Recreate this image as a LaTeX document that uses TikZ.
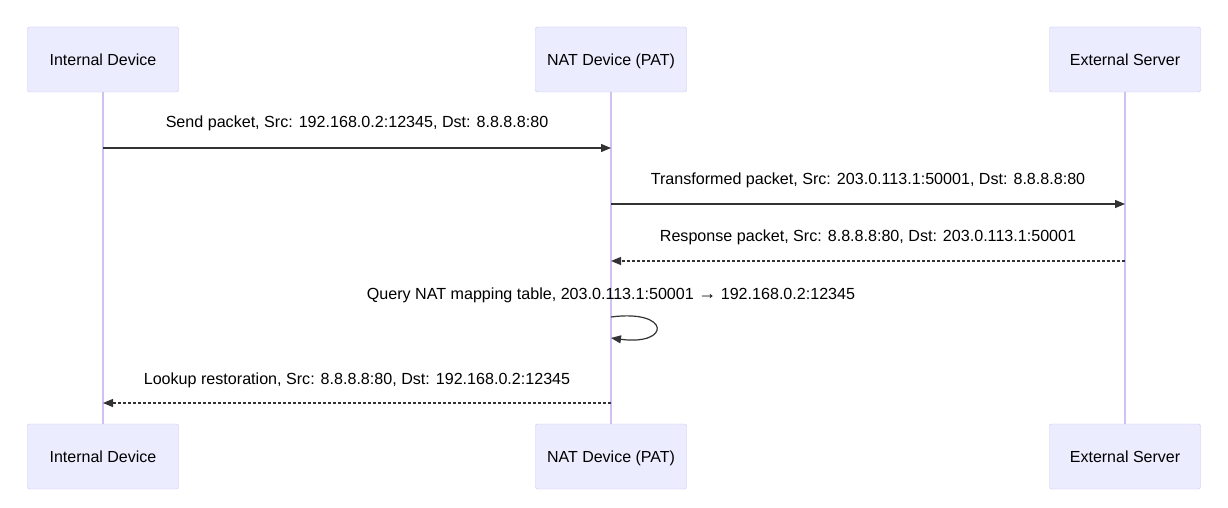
\documentclass[tikz,border=0pt]{standalone}
\usepackage{fontspec}
\setmainfont{Liberation Sans}
\usetikzlibrary{arrows.meta}
\definecolor{actfill}{HTML}{ECECFF}
\definecolor{actline}{HTML}{CFC2F2}
\definecolor{ink}{HTML}{333333}
\tikzset{
  actor/.style={draw=actline, fill=actfill, rounded corners=2pt, minimum width=151pt, minimum height=65pt, inner sep=0pt, font=\fontsize{16}{18}\selectfont, text=black, text height=12pt, text depth=0pt},
  life/.style={draw=actline, line width=1.6pt},
  msg/.style={draw=ink, line width=1.2pt, -{Triangle[length=10pt,width=8pt]}},
  reply/.style={msg, dash pattern=on 3pt off 2pt},
  lbl/.style={font=\fontsize{16.1}{18}\selectfont, text=black, inner sep=0pt, text height=12pt, text depth=0pt}
}
\begin{document}
\begin{tikzpicture}[x=1pt,y=-1pt]
\useasboundingbox (0,0) rectangle (1228,508);
\fill[white] (0,0) rectangle (1228,508);
% lifelines
\coordinate (a0) at (103,92); \coordinate (a1) at (103,424);
\coordinate (b0) at (611,92); \coordinate (b1) at (611,424);
\coordinate (c0) at (1125,92); \coordinate (c1) at (1125,424);
\draw[life] (a0) -- (a1);
\draw[life] (b0) -- (b1);
\draw[life] (c0) -- (c1);
% actors
\node[actor] (A) at (103,59.5) {Internal Device};
\node[actor] (B) at (611,59.5) {NAT Device (PAT)};
\node[actor] (C) at (1125,59.5) {External Server};
\node[actor] (A2) at (103,456.5) {Internal Device};
\node[actor] (B2) at (611,456.5) {NAT Device (PAT)};
\node[actor] (C2) at (1125,456.5) {External Server};
% message 1
\coordinate (m1a) at (103,148); \coordinate (m1b) at (611,148);
\draw[msg] (m1a) -- (m1b);
\node[lbl] (l1) at (357,122) {Send packet, Src: 192.168.0.2:12345, Dst: 8.8.8.8:80};
% message 2
\coordinate (m2a) at (611,204); \coordinate (m2b) at (1125,204);
\draw[msg] (m2a) -- (m2b);
\node[lbl] (l2) at (868,178) {Transformed packet, Src: 203.0.113.1:50001, Dst: 8.8.8.8:80};
% message 3
\coordinate (m3a) at (1125,261); \coordinate (m3b) at (611,261);
\draw[reply] (m3a) -- (m3b);
\node[lbl] (l3) at (868,235) {Response packet, Src: 8.8.8.8:80, Dst: 203.0.113.1:50001};
% self loop
\coordinate (s0) at (611,317); \coordinate (s1) at (611,338);
\draw[msg] (s0) .. controls (671,309) and (671,346) .. (s1);
\node[lbl] (l4) at (611,293) {Query NAT mapping table, 203.0.113.1:50001 {\fontsize{18}{18}\selectfont →} 192.168.0.2:12345};
% message 5
\coordinate (m5a) at (611,403); \coordinate (m5b) at (103,403);
\draw[reply] (m5a) -- (m5b);
\node[lbl] (l5) at (357,378) {Lookup restoration, Src: 8.8.8.8:80, Dst: 192.168.0.2:12345};
\end{tikzpicture}
\end{document}
